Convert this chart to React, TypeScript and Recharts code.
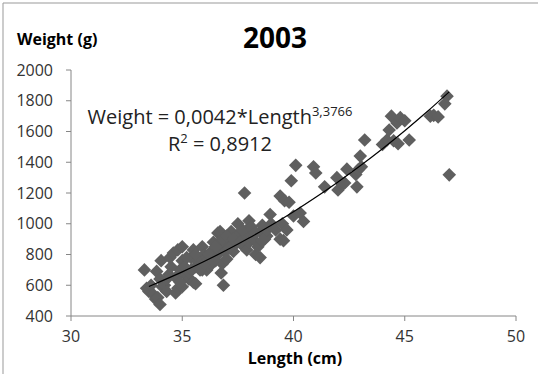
import React from 'react';
import { ScatterChart, Scatter, XAxis, YAxis, Customized } from 'recharts';

// fish lengths (cm) and weights (g)
const lengths = [
  33.3, 33.4, 33.5, 33.6, 33.7, 33.8, 33.85, 33.9, 34.0, 34.0, 34.05, 34.1, 34.2, 34.3, 34.4, 34.45,
  34.6, 34.7, 34.7, 34.8, 34.8, 34.9, 35.0, 35.0, 35.0, 35.1, 35.2, 35.3, 35.3, 35.4, 35.5, 35.5,
  35.6, 35.6, 35.7, 35.8, 35.9, 35.9, 36.0, 36.1, 36.1, 36.2, 36.3, 36.3, 36.4, 36.5, 36.6, 36.6,
  36.7, 36.7, 36.75, 36.8, 36.85, 36.9, 36.9, 37.0, 37.0, 37.1, 37.2, 37.2, 37.3, 37.4, 37.45, 37.5,
  37.5, 37.6, 37.7, 37.8, 37.8, 37.9, 37.9, 38.0, 38.0, 38.1, 38.2, 38.3, 38.4, 38.5, 38.5, 38.6,
  38.7, 38.8, 38.8, 38.95, 39.0, 39.2, 39.4, 39.4, 39.5, 39.55, 39.6, 39.7, 39.8, 39.9, 40.0, 40.1,
  40.3, 40.45, 40.9, 41.0, 41.4, 41.95, 42.0, 42.2, 42.4, 42.3, 42.8, 42.85, 42.9, 43.0, 43.05, 43.2,
  44.0, 44.2, 44.3, 44.4, 44.5, 44.65, 44.7, 44.8, 45.0, 45.2, 46.15, 46.3, 46.5, 46.8, 46.9, 47.0,
  35.2, 35.4, 35.8, 36.0, 36.2, 36.4, 36.5, 36.8, 37.0, 37.1, 37.3, 37.6, 37.7, 38.1, 38.3, 38.6,
  34.9, 34.5, 34.3, 35.6,
];
const weights = [
  700, 580, 560, 600, 540, 510, 690, 520, 475, 640, 760, 590, 600, 560, 670, 780,
  810, 550, 650, 580, 830, 700, 850, 590, 760, 720, 660, 640, 680, 780, 620, 830,
  610, 720, 760, 770, 850, 700, 800, 780, 700, 720, 740, 820, 880, 760, 800, 940,
  850, 950, 680, 740, 600, 820, 900, 870, 770, 930, 950, 850, 820, 880, 875, 1000,
  900, 940, 860, 1200, 900, 830, 960, 1020, 880, 930, 900, 800, 850, 780, 950, 990,
  900, 920, 960, 1060, 1000, 960, 1180, 900, 1000, 890, 1150, 960, 1140, 1280, 1050, 1380,
  1070, 1015, 1370, 1330, 1240, 1300, 1220, 1255, 1355, 1265, 1320, 1240, 1350, 1440, 1370, 1545,
  1515, 1545, 1610, 1700, 1540, 1655, 1520, 1690, 1670, 1545, 1700, 1705, 1695, 1780, 1830, 1318,
  780, 700, 700, 740, 800, 760, 850, 900, 920, 840, 900, 880, 960, 980, 940, 890,
  620, 720, 640, 800,
];

// power trendline Weight = 0,0042*Length^3,3766, values at whole lengths
const trendLengths = [33.5, 35, 36, 37, 38, 39, 40, 41, 42, 43, 44, 45, 46, 47];
const trendWeights = [592, 687, 756, 829, 907, 990, 1078, 1172, 1272, 1377, 1488, 1605, 1728, 1858];

const xTicks = [30, 35, 40, 45, 50];
const yTicks = [400, 600, 800, 1000, 1200, 1400, 1600, 1800, 2000];

const points = lengths.map((x, i) => ({ x, y: weights[i] }));
const trend = trendLengths.map((x, i) => ({ x, y: trendWeights[i] }));

const font = "'Open Sans', sans-serif";
const tickStyle = { fontSize: 16, fill: '#333', fontFamily: font };

const Diamond = (props: any) => {
  const { cx, cy } = props;
  const r = 6.8;
  return (
    <polygon
      points={`${cx},${cy - r} ${cx + r},${cy} ${cx},${cy + r} ${cx - r},${cy}`}
      fill="#5f5f5f"
    />
  );
};

const Overlay = () => (
  <g fontFamily={font}>
    <line x1={3} y1={3} x2={538} y2={3} stroke="#999" />
    <line x1={3} y1={3} x2={3} y2={374} stroke="#999" />
    <text x={275} y={48} textAnchor="middle" fontSize={28} fontWeight="bold" fill="#000">2003</text>
    <text x={17} y={45} fontSize={16} fontWeight="bold" fill="#000">Weight (g)</text>
    <text x={295} y={364} textAnchor="middle" fontSize={16} fontWeight="bold" fill="#000">Length (cm)</text>
    <text x={220} y={124} textAnchor="middle" fontSize={20} fill="#222">
      Weight = 0,0042*Length<tspan dy={-8} fontSize={13}>3,3766</tspan>
    </text>
    <text x={220} y={151} textAnchor="middle" fontSize={20} fill="#222">
      R<tspan dy={-8} fontSize={13}>2</tspan><tspan dy={8}> = 0,8912</tspan>
    </text>
  </g>
);

export default function App() {
  return (
    <div style={{ position: 'absolute', left: 0, top: 0, background: '#fff' }}>
      <ScatterChart width={538} height={374} margin={{ top: 70, right: 22, bottom: 28, left: 0 }}>
        <XAxis
          type="number"
          dataKey="x"
          domain={[30, 50]}
          ticks={xTicks}
          allowDataOverflow
          height={30}
          stroke="#868686"
          tickSize={5}
          tickMargin={10}
          tick={tickStyle}
        />
        <YAxis
          type="number"
          dataKey="y"
          domain={[400, 2000]}
          ticks={yTicks}
          allowDataOverflow
          width={71}
          stroke="#868686"
          tickSize={5}
          tickMargin={13}
          tick={tickStyle}
        />
        <Scatter data={points} shape={Diamond} isAnimationActive={false} />
        <Scatter
          data={trend}
          line={{ stroke: '#000', strokeWidth: 1.2 }}
          lineJointType="monotoneX"
          shape={() => <g />}
          isAnimationActive={false}
        />
        <Customized component={Overlay} />
      </ScatterChart>
    </div>
  );
}
